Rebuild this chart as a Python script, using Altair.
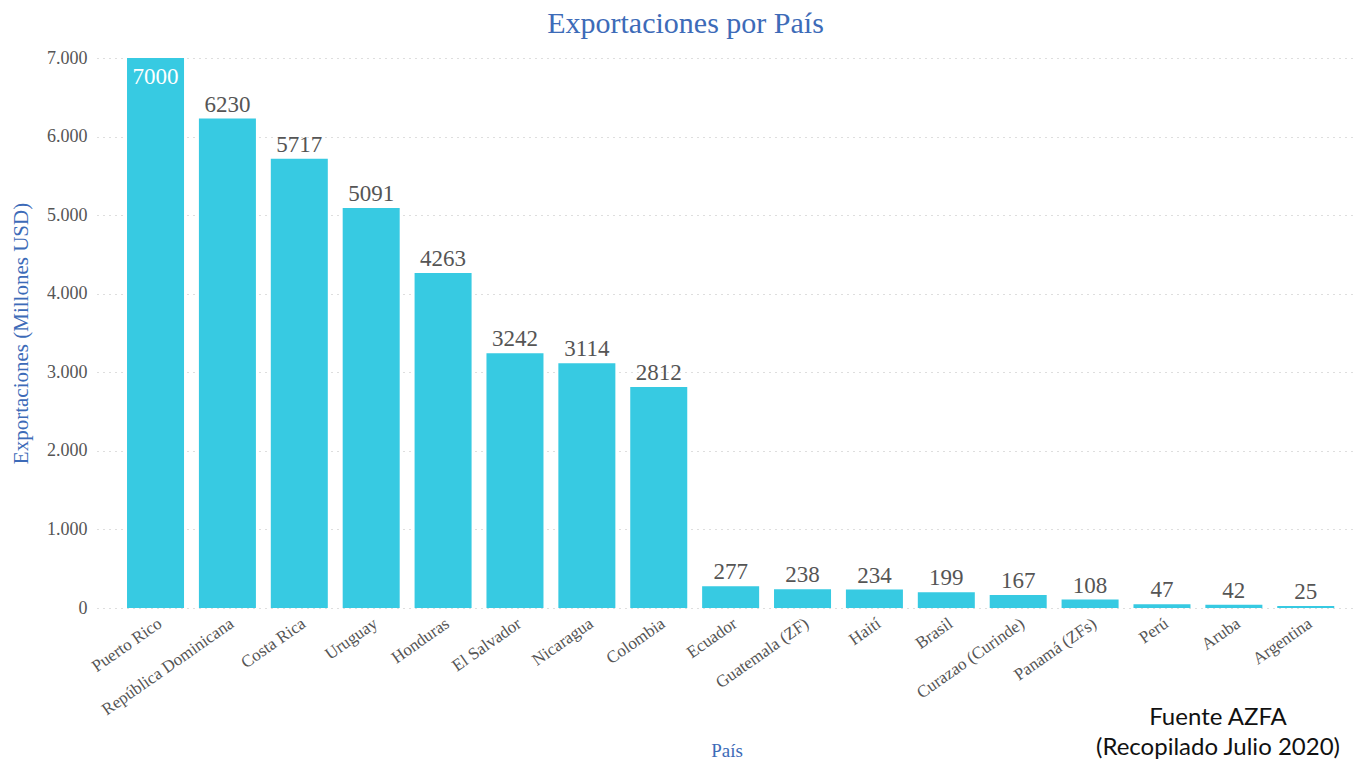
import altair as alt
import pandas as pd

paises = ["Puerto Rico", "República Dominicana", "Costa Rica", "Uruguay", "Honduras",
          "El Salvador", "Nicaragua", "Colombia", "Ecuador", "Guatemala (ZF)", "Haití",
          "Brasil", "Curazao (Curinde)", "Panamá (ZFs)", "Perú", "Aruba", "Argentina"]
exportaciones = [7000, 6230, 5717, 5091, 4263, 3242, 3114, 2812, 277, 238, 234, 199, 167, 108, 47, 42, 25]
y_ticks = [0, 1000, 2000, 3000, 4000, 5000, 6000, 7000]
fuente = ["Fuente AZFA", "(Recopilado Julio 2020)"]

df = pd.DataFrame({"pais": paises, "valor": exportaciones})

SERIF = "Liberation Serif"
BLUE = "#3d6bb8"
GRAY = "#555555"
BAR = "#37cae2"

x_enc = alt.X("pais:N", sort=paises,
              scale=alt.Scale(paddingInner=0.207, paddingOuter=0.36, align=0.58),
              axis=alt.Axis(title="País", labelAngle=-35, labelAlign="right", labelBaseline="top",
                            labelFont=SERIF, labelFontSize=17, labelColor=GRAY, labelPadding=7,
                            ticks=False, domain=False, titleFont=SERIF, titleFontSize=19,
                            titleColor=BLUE, titleFontWeight="normal", titlePadding=24))
y_enc = alt.Y("valor:Q", scale=alt.Scale(domain=[0, 7000], nice=False),
              axis=alt.Axis(title="Exportaciones (Millones USD)", values=y_ticks,
                            labelExpr="replace(format(datum.value, ','), ',', '.')",
                            labelFont=SERIF, labelFontSize=18, labelColor=GRAY, labelPadding=10,
                            ticks=False, domain=False, grid=True, gridDash=[1, 5],
                            gridColor="#bdbdbd", gridWidth=1,
                            titleFont=SERIF, titleFontSize=21, titleColor=BLUE,
                            titleFontWeight="normal", titlePadding=15))

base = alt.Chart(df)
bars = base.mark_bar(color=BAR).encode(x=x_enc, y=y_enc)

labels_out = base.transform_filter("datum.valor < 7000").mark_text(
    font=SERIF, fontSize=23, color=GRAY, baseline="bottom", dy=-2
).encode(x=alt.X("pais:N", sort=paises), y=alt.Y("valor:Q"), text="valor:Q")

labels_in = base.transform_filter("datum.valor >= 7000").mark_text(
    font=SERIF, fontSize=23, color="white", baseline="top", dy=8
).encode(x=alt.X("pais:N", sort=paises), y=alt.Y("valor:Q"), text="valor:Q")

foot1 = alt.Chart(pd.DataFrame({"t": [fuente[0]]})).mark_text(
    font="Lato", fontSize=24, color="#111111", align="center", baseline="middle").encode(
    x=alt.value(1121), y=alt.value(660), text="t:N")
foot2 = alt.Chart(pd.DataFrame({"t": [fuente[1]]})).mark_text(
    font="Lato", fontSize=24, color="#111111", align="center", baseline="middle").encode(
    x=alt.value(1121), y=alt.value(690), text="t:N")

chart = alt.layer(bars, labels_out, labels_in, foot1, foot2).properties(
    width=1259, height=550,
    padding={"left": 89, "top": 50, "right": 1, "bottom": 151},
    autosize=alt.AutoSizeParams(type="none"),
    title=alt.TitleParams("Exportaciones por País", font=SERIF, fontSize=30, color=BLUE,
                          fontWeight="normal", anchor="middle", frame="group",
                          dx=-41, offset=10)
).configure(background="white").configure_view(stroke=None)

chart.save("out.html", embed_options={"renderer": "svg", "actions": False})
